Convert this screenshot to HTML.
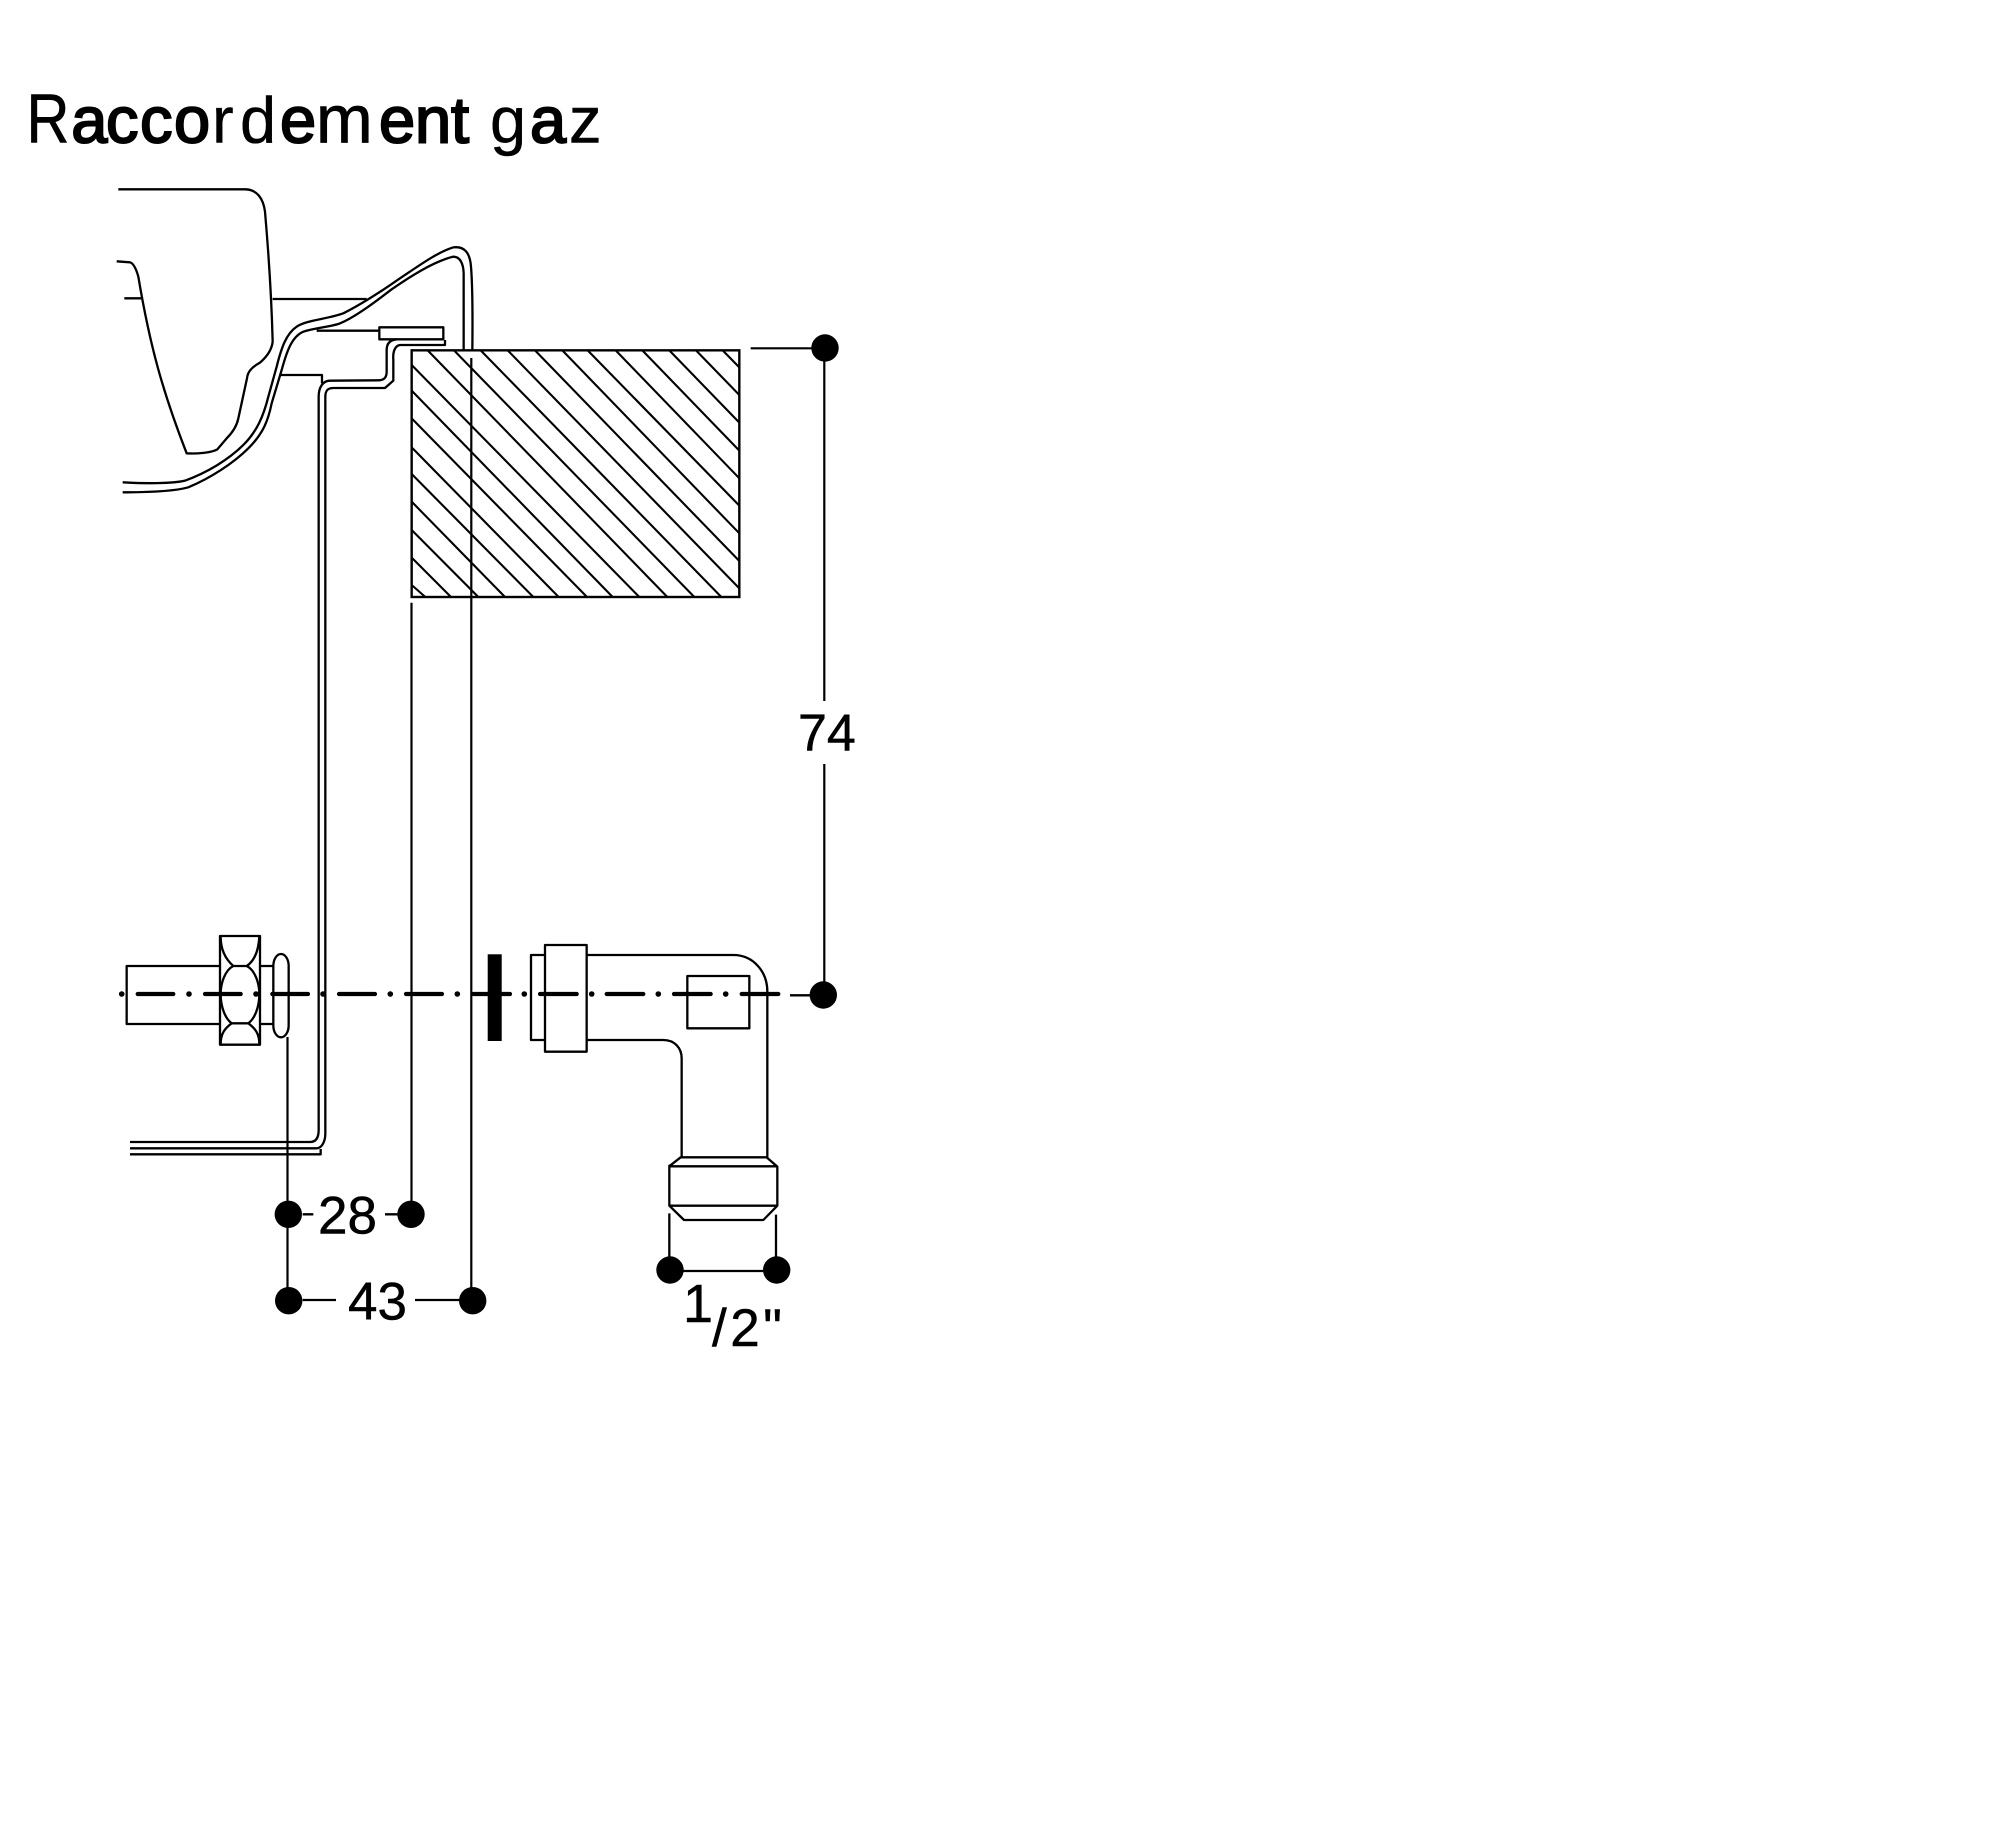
<!DOCTYPE html>
<html><head><meta charset="utf-8"><style>
html,body{margin:0;padding:0;background:#fff}
svg{display:block}
text{font-family:"Liberation Sans",Arial,sans-serif;fill:#000}
</style></head><body>
<svg width="2000" height="1833" viewBox="0 0 2000 1833" xmlns="http://www.w3.org/2000/svg">
<rect width="2000" height="1833" fill="#fff"/>

<!-- title -->
<text transform="translate(26.5 142.3) scale(.85 1)" font-size="70" stroke="#000" stroke-width=".6">R</text>
<text y="142.3" font-size="65"><tspan x="71.3 106 140 174" stroke="#000" stroke-width="2">acco</tspan><tspan x="212 240" stroke="#000" stroke-width=".4">rd</tspan><tspan x="280" stroke="#000" stroke-width="2">e</tspan><tspan x="316" stroke="#000" stroke-width=".8" font-size="68">m</tspan><tspan x="379 415 451" stroke="#000" stroke-width="2">ent</tspan><tspan x="490" stroke="#000" stroke-width=".4">g</tspan><tspan x="530" stroke="#000" stroke-width="2">a</tspan><tspan x="569" stroke="#000" stroke-width=".6">z</tspan></text>

<!-- upper section -->
<g transform="translate(100 170) scale(.33333)" fill="none" stroke="#000" stroke-width="6.9" stroke-linejoin="round">
<path d="M55 58L435 58C470 58 490 85 495 125C505 240 515 400 518 515C515 545 495 565 480 578C455 592 443 605 441 625L415 745C410 770 395 790 380 805L352 838C335 848 290 852 260 850C190 670 150 530 115 320C108 295 100 280 90 277L50 274"/>
<path d="M73 385L125 385M518 387L800 387"/>
<path d="M68 937C130 941 220 941 255 932C320 908 385 870 430 825C470 785 490 740 505 680L530 590C545 530 560 490 590 470C620 450 680 448 730 430C780 405 850 360 900 325C960 285 1010 248 1060 232C1095 228 1110 250 1113 290C1118 350 1118 450 1117 540"/>
<path d="M68 967C140 967 220 965 265 952C330 925 400 880 445 835C490 790 505 750 515 700L545 600C560 545 575 500 610 485C640 475 680 472 715 462C760 445 820 400 875 358C930 320 1000 275 1060 260C1080 260 1090 280 1091 310L1091 540"/>
<path d="M838 472H1030V508H838ZM650 482H838"/>
<path d="M656 2250L656 680C656 650 670 632 690 632L835 631C850 631 860 625 860 605L860 540C860 520 870 510 890 508"/>
<path d="M676 2250L676 680C676 660 685 654 700 654L855 654L880 632L880 570C878 545 885 527 900 525L1035 525L1035 510"/>
<path d="M540 615H666V640"/>
</g>

<!-- hatched block -->
<g transform="translate(400 330) scale(.33333)" fill="none" stroke="#000" stroke-width="6.3">
<rect x="35" y="61" width="983" height="740" stroke-width="7.2"/>
<path d="M83 61L802 801M162 61L883 801M242 61L964 801M323 61L1018 775M405 61L1018 693M487 61L1018 610M563 61L1018 527M647 61L1018 445M727 61L1018 362M808 61L1018 278M888 61L1018 195M968 61L1018 112"/>
<path d="M35 105L718 801M35 182L638 801M35 265L561 801M35 352L476 801M35 432L400 801M35 515L315 801M35 600L235 801M35 683L153 801M35 765L76 801"/>
<path d="M1052 55H1235"/>
</g>

<!-- long vertical dimension lines -->
<g fill="none" stroke="#000" stroke-width="2.2">
<path d="M471.3 358V1300M411.5 602.7V1214M824.3 348V701M824.3 764V995M287.5 1037V1300"/>
</g>

<!-- left fitting + tray -->
<g transform="translate(100 920) scale(.33333)" fill="none" stroke="#000" stroke-width="6.9" stroke-linejoin="round">
<path d="M360 138H80V312H360"/>
<rect x="360" y="48" width="120" height="326"/>
<path d="M362 50C362 100 385 125 400 138H440C460 125 475 100 478 50"/>
<path d="M400 138C375 150 362 190 362 222C362 260 375 295 395 310H445C465 295 478 260 478 222C478 190 465 150 440 138"/>
<path d="M362 372C362 340 375 325 395 310M478 372C478 340 465 325 445 310"/>
<path d="M480 138H520M480 312H520"/>
<rect x="520" y="102" width="46" height="250" rx="23" ry="36"/>
<path d="M656 0V630C656 650 650 666 630 666H90M676 0V640C676 665 665 685 650 685H90M90 703H662V687"/>
<path d="M608 883H640M855 883H893M608 1140H708M945 1140H1080"/>
</g>

<!-- centre line -->
<path d="M137.7 994H173.3M205 994H240.7M272.3 994H308M339 994H375M406 994H442M473.3 994H510M540 994H576.7M606.7 994H643.3M674 994H710.7M741.7 994H778.3" fill="none" stroke="#000" stroke-width="4.2" stroke-linecap="round"/>
<path d="M121.7 994h.01M189 994h.01M256 994h.01M323 994h.01M390.3 994h.01M457.3 994h.01M524.3 994h.01M591.7 994h.01M658.3 994h.01M725.7 994h.01" fill="none" stroke="#000" stroke-width="5.6" stroke-linecap="round"/>
<rect x="487.7" y="954.3" width="14" height="86.7" fill="#000"/>

<!-- elbow -->
<g transform="translate(470 920) scale(.33333)" fill="none" stroke="#000" stroke-width="6.9" stroke-linejoin="round">
<rect x="225" y="75" width="125" height="320"/>
<path d="M225 105H183V360H225"/>
<path d="M350 105H790C850 105 892 155 892 215V712"/>
<path d="M350 360H580C615 360 635 385 635 415V712"/>
<rect x="652" y="168" width="186" height="157"/>
<path d="M600 737L632 712H890L922 740V857L880 900H642L598 857V737ZM598 739H922M598 857H922"/>
<path d="M598 880V1010M918 884V1010M640 1053H880M960 226H1020"/>
</g>

<!-- dots -->
<g fill="#000">
<circle cx="288.3" cy="1214.3" r="13.7"/>
<circle cx="411" cy="1214.3" r="13.7"/>
<circle cx="288.7" cy="1300.7" r="13.7"/>
<circle cx="472.7" cy="1300.7" r="13.7"/>
<circle cx="670" cy="1270" r="13.7"/>
<circle cx="776.7" cy="1270" r="13.7"/>
<circle cx="823.3" cy="995" r="13.7"/>
<circle cx="825" cy="348" r="13.7"/>
</g>

<!-- labels -->
<g stroke="#000" stroke-width=".5">
<text x="318" y="1233.3" font-size="53">28</text>
<text x="348" y="1319.3" font-size="53">43</text>
<text x="798" y="750.7" font-size="52">74</text>
<text x="683" y="1322" font-size="54">1</text>
<text x="712" y="1346" font-size="53" textLength="70">/2"</text>
</g>
</svg>
</body></html>
